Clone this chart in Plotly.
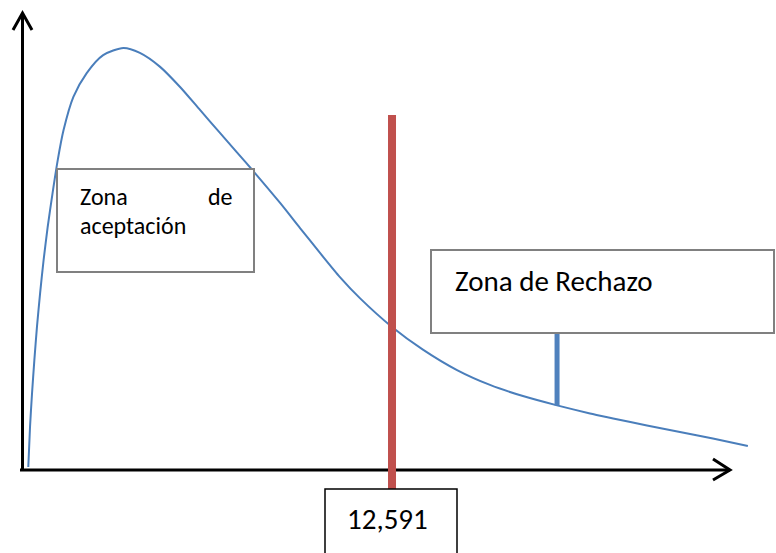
import numpy as np
import plotly.graph_objects as go

# ---- data (chi-square units / density) ----
chi_x = [0.01, 0.07, 0.14, 0.22, 0.31, 0.42, 0.54, 0.68, 0.85, 1.03,
         1.23, 1.57, 2.03, 2.60, 3.30, 3.87, 4.57, 5.26, 5.95, 6.64,
         7.22, 7.79, 8.72, 9.41, 10.10, 10.79, 11.48, 12.59, 13.66,
         14.84, 15.98, 17.12, 18.30, 19.44, 20.24, 21.41, 22.55, 23.69, 24.90]
density = [0.0003, 0.0132, 0.0242, 0.0348, 0.0455, 0.0565, 0.0671, 0.0777, 0.0887, 0.0994,
           0.1090, 0.1197, 0.1274, 0.1332, 0.1355, 0.1339, 0.1294, 0.1229, 0.1155, 0.1081,
           0.1019, 0.0958, 0.0855, 0.0774, 0.0694, 0.0616, 0.0548, 0.0455, 0.0382,
           0.0316, 0.0268, 0.0232, 0.0202, 0.0176, 0.0160, 0.0137, 0.0116, 0.0095, 0.0071]
critical_value = 12.591
rejection_marker_x = 18.30
accept_label = ["Zona", "de", "aceptación"]
reject_label = "Zona de Rechazo"
crit_label = f"{critical_value:.3f}".replace(".", ",")

# ---- layout geometry (pixels) ----
W, H = 776, 553
X0PX, XSCALE = 28, 28.91      # pixel of x=0, pixels per unit
Y0PX, YSCALE = 468, 3100      # pixel of density 0, pixels per unit


def px(x):
    return x / W


def py(y):
    return 1 - y / H


def ypx_to_data(y):
    return (Y0PX - y) / YSCALE


FONT = "Carlito, Lato, 'Open Sans', sans-serif"
BLUE = "#4A7EBB"
RED = "#C0504D"
GRAY = "#808080"

fig = go.Figure()
fig.add_trace(go.Scatter(x=chi_x, y=density, mode="lines",
                         line=dict(color=BLUE, width=2, shape="spline", smoothing=0.7),
                         hoverinfo="skip", showlegend=False))

shapes = []
# axes
shapes.append(dict(type="line", xref="paper", yref="paper", x0=px(22.5), x1=px(22.5),
                   y0=py(470), y1=py(13), line=dict(color="black", width=3)))
shapes.append(dict(type="path", xref="paper", yref="paper",
                   path=f"M{px(13)},{py(30)} L{px(22.5)},{py(13)} L{px(32)},{py(30)}",
                   line=dict(color="black", width=3)))
shapes.append(dict(type="line", xref="paper", yref="paper", x0=px(20), x1=px(730),
                   y0=py(470), y1=py(470), line=dict(color="black", width=3)))
shapes.append(dict(type="path", xref="paper", yref="paper",
                   path=f"M{px(713)},{py(459)} L{px(730)},{py(470)} L{px(713)},{py(480)}",
                   line=dict(color="black", width=3)))
# critical value line
shapes.append(dict(type="line", xref="x", yref="paper", x0=critical_value, x1=critical_value,
                   y0=py(489), y1=py(115), line=dict(color=RED, width=8)))
# boxes
shapes.append(dict(type="rect", xref="paper", yref="paper", x0=px(57), x1=px(254),
                   y0=py(272), y1=py(169), fillcolor="white",
                   line=dict(color=GRAY, width=2)))
shapes.append(dict(type="rect", xref="paper", yref="paper", x0=px(431), x1=px(774),
                   y0=py(333), y1=py(250), fillcolor="white",
                   line=dict(color=GRAY, width=2)))
shapes.append(dict(type="rect", xref="paper", yref="paper", x0=px(325), x1=px(457),
                   y0=py(565), y1=py(489), fillcolor="white",
                   line=dict(color="black", width=1.5)))
# connector from rejection box to curve
y_curve = float(np.interp(rejection_marker_x, chi_x, density))
shapes.append(dict(type="line", xref="x", yref="y", x0=rejection_marker_x, x1=rejection_marker_x,
                   y0=ypx_to_data(334), y1=y_curve, line=dict(color="#4F81BD", width=5)))

annotations = [
    dict(text=accept_label[0], xref="paper", yref="paper", x=px(78), y=py(196),
         xanchor="left", yanchor="middle", showarrow=False,
         font=dict(family=FONT, size=24, color="black")),
    dict(text=accept_label[1], xref="paper", yref="paper", x=px(235), y=py(196),
         xanchor="right", yanchor="middle", showarrow=False,
         font=dict(family=FONT, size=24, color="black")),
    dict(text=accept_label[2], xref="paper", yref="paper", x=px(78), y=py(225),
         xanchor="left", yanchor="middle", showarrow=False,
         font=dict(family=FONT, size=24, color="black")),
    dict(text=reject_label, xref="paper", yref="paper", x=px(453), y=py(281),
         xanchor="left", yanchor="middle", showarrow=False,
         font=dict(family=FONT, size=29, color="black")),
    dict(text=crit_label, xref="paper", yref="paper", x=px(387), y=py(519),
         xanchor="center", yanchor="middle", showarrow=False,
         font=dict(family=FONT, size=29, color="black")),
]

fig.update_layout(
    width=W, height=H, autosize=False,
    margin=dict(l=0, r=0, t=0, b=0),
    paper_bgcolor="white", plot_bgcolor="white",
    xaxis=dict(range=[(0 - X0PX) / XSCALE, (W - X0PX) / XSCALE], visible=False, fixedrange=True),
    yaxis=dict(range=[(Y0PX - H) / YSCALE, Y0PX / YSCALE], visible=False, fixedrange=True),
    shapes=shapes, annotations=annotations, showlegend=False,
)
fig.write_html("out.html", config={"displayModeBar": False},
               post_script="document.body.style.margin='0';document.body.style.overflow='hidden';")
